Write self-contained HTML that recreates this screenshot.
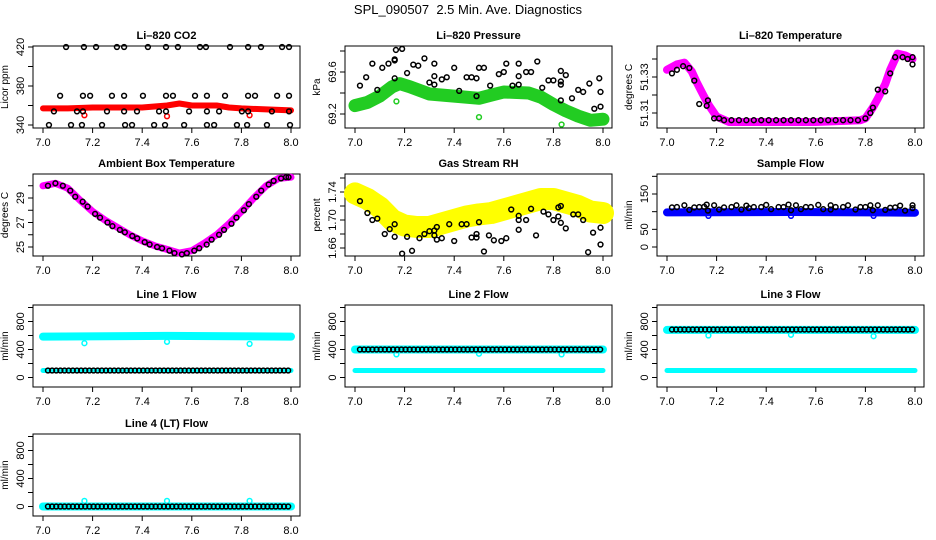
<!DOCTYPE html>
<html><head><meta charset="utf-8"><style>
html,body{margin:0;padding:0;background:#fff;}
svg{display:block;font-family:"Liberation Sans",sans-serif;}
</style></head><body>
<svg id="c" width="936" height="540" viewBox="0 0 936 540">
<text x="468" y="14" text-anchor="middle" font-size="13" style="white-space:pre">SPL_090507  2.5 Min. Ave. Diagnostics</text>
</svg>
<script>
// ---- data ----
const xTicks=[7.0,7.2,7.4,7.6,7.8,8.0];
const co2Band=[[7.0,357],[7.1,357],[7.2,358],[7.3,358],[7.4,358],[7.5,360],[7.55,362],[7.6,360],[7.7,360],[7.75,358],[7.8,357],[7.9,356],[8.0,355]];
const co2Out=[[7.167,350],[7.5,349],[7.833,350]];
const co2BlackT=[7.093,7.165,7.214,7.298,7.327,7.423,7.496,7.544,7.633,7.657,7.754,7.827,7.879,7.964,7.992,
7.069,7.161,7.19,7.278,7.327,7.403,7.496,7.524,7.613,7.661,7.734,7.827,7.855,7.944,7.992,
7.044,7.137,7.161,7.258,7.327,7.379,7.468,7.496,7.589,7.661,7.71,7.802,7.827,7.923,7.992,
7.024,7.113,7.157,7.238,7.331,7.359,7.448,7.492,7.569,7.661,7.69,7.782,7.823,7.903,7.996];
const co2BlackV=[420,420,420,420,420,420,420,420,420,420,420,420,420,420,420,
370,370,370,370,370,370,370,370,370,370,370,370,370,370,370,
354,354,354,354,354,354,354,354,354,354,354,354,354,354,354,
340,340,340,340,340,340,340,340,340,340,340,340,340,340,340];
const presBand=[[7.0,69.28],[7.05,69.31],[7.1,69.37],[7.15,69.46],[7.18,69.49],[7.22,69.46],[7.3,69.39],[7.4,69.37],[7.5,69.35],[7.55,69.38],[7.6,69.41],[7.7,69.40],[7.75,69.36],[7.8,69.29],[7.85,69.23],[7.9,69.18],[7.95,69.14],[8.0,69.15]];
const presOut=[[7.167,69.32],[7.5,69.17],[7.833,69.10]];
const presBlack=[[7.02,69.47],[7.045,69.55],[7.07,69.68],[7.09,69.43],[7.11,69.64],[7.135,69.68],[7.16,69.72],[7.16,69.71],[7.16,69.54],[7.165,69.81],[7.19,69.82],[7.21,69.59],[7.235,69.67],[7.255,69.66],[7.28,69.73],[7.30,69.5],[7.32,69.68],[7.32,69.56],[7.32,69.48],[7.35,69.53],[7.37,69.55],[7.40,69.64],[7.42,69.42],[7.45,69.55],[7.47,69.55],[7.49,69.54],[7.49,69.37],[7.50,69.64],[7.52,69.64],[7.545,69.47],[7.58,69.58],[7.60,69.6],[7.61,69.68],[7.635,69.47],[7.66,69.68],[7.66,69.56],[7.66,69.48],[7.69,69.6],[7.71,69.6],[7.735,69.7],[7.755,69.45],[7.78,69.52],[7.80,69.52],[7.83,69.61],[7.83,69.51],[7.83,69.48],[7.83,69.33],[7.85,69.57],[7.875,69.35],[7.90,69.43],[7.92,69.41],[7.945,69.49],[7.965,69.25],[7.985,69.54],[7.99,69.41],[7.99,69.27]];
const tempBand=[[7.0,51.334],[7.04,51.337],[7.07,51.338],[7.1,51.333],[7.12,51.327],[7.15,51.319],[7.17,51.314],[7.2,51.308],[7.25,51.305],[7.4,51.305],[7.6,51.305],[7.78,51.306],[7.8,51.307],[7.83,51.313],[7.85,51.318],[7.88,51.326],[7.9,51.334],[7.93,51.343],[7.96,51.342],[7.99,51.340]];
const tempBlack=[[7.02,51.332],[7.04,51.334],[7.065,51.336],[7.09,51.335],[7.11,51.328],[7.13,51.315],[7.16,51.314],[7.165,51.317],[7.19,51.307],[7.21,51.307],[7.23,51.306],[7.26,51.306],[7.29,51.306],[7.32,51.306],[7.35,51.306],[7.38,51.306],[7.41,51.306],[7.44,51.306],[7.47,51.306],[7.50,51.306],[7.53,51.306],[7.56,51.306],[7.59,51.306],[7.62,51.306],[7.65,51.306],[7.68,51.306],[7.71,51.306],[7.74,51.306],[7.77,51.306],[7.8,51.307],[7.82,51.310],[7.83,51.313],[7.85,51.323],[7.88,51.322],[7.90,51.332],[7.92,51.341],[7.95,51.341],[7.97,51.340],[7.99,51.341],[7.99,51.337]];
const ambBand=[[7.0,30.0],[7.05,30.2],[7.1,29.8],[7.15,28.8],[7.2,27.9],[7.25,27.2],[7.3,26.6],[7.35,26.0],[7.4,25.5],[7.45,25.1],[7.5,24.8],[7.55,24.5],[7.6,24.7],[7.65,25.3],[7.7,26.0],[7.75,26.9],[7.8,27.9],[7.85,29.0],[7.9,30.0],[7.95,30.6],[8.0,30.7]];
const ambBlackT=[7.02,7.05,7.08,7.11,7.13,7.16,7.18,7.21,7.23,7.26,7.28,7.31,7.33,7.36,7.38,7.41,7.43,7.46,7.48,7.51,7.53,7.56,7.58,7.61,7.63,7.66,7.68,7.71,7.73,7.76,7.78,7.81,7.83,7.86,7.88,7.91,7.93,7.96,7.98,7.99];
const ambBlackV=[30.0,30.2,30.0,29.6,29.1,28.7,28.3,27.7,27.4,27.0,26.7,26.4,26.2,25.9,25.7,25.4,25.2,25.0,24.9,24.7,24.5,24.4,24.5,24.7,24.9,25.2,25.6,26.0,26.4,26.9,27.4,28.0,28.5,29.1,29.6,30.1,30.4,30.6,30.7,30.7];
const rhBand=[[7.0,1.738],[7.05,1.73],[7.1,1.718],[7.15,1.70],[7.2,1.692],[7.25,1.69],[7.3,1.69],[7.35,1.695],[7.4,1.70],[7.45,1.705],[7.5,1.708],[7.55,1.71],[7.6,1.715],[7.65,1.72],[7.7,1.725],[7.75,1.73],[7.8,1.73],[7.85,1.725],[7.9,1.72],[7.95,1.712],[8.0,1.71]];
const rhBlack=[[7.02,1.727],[7.05,1.71],[7.07,1.70],[7.09,1.702],[7.12,1.68],[7.14,1.687],[7.16,1.676],[7.16,1.694],[7.19,1.652],[7.21,1.676],[7.23,1.656],[7.26,1.674],[7.28,1.68],[7.30,1.684],[7.32,1.685],[7.32,1.678],[7.33,1.69],[7.33,1.672],[7.35,1.674],[7.38,1.694],[7.40,1.67],[7.43,1.694],[7.45,1.694],[7.47,1.675],[7.49,1.675],[7.49,1.68],[7.50,1.697],[7.52,1.655],[7.54,1.678],[7.56,1.671],[7.59,1.670],[7.61,1.674],[7.63,1.715],[7.66,1.706],[7.66,1.70],[7.66,1.686],[7.69,1.70],[7.71,1.716],[7.73,1.678],[7.76,1.712],[7.78,1.708],[7.80,1.70],[7.82,1.718],[7.82,1.705],[7.83,1.72],[7.83,1.696],[7.85,1.688],[7.88,1.708],[7.90,1.708],[7.92,1.70],[7.94,1.654],[7.96,1.682],[7.99,1.689],[7.99,1.665]];
const sampBand=[[7.0,98],[7.5,99],[8.0,97]];
const sampOut=[[7.167,88],[7.5,88],[7.833,88]];
const sampBlack=[[7.02,112],[7.04,113],[7.07,118],[7.09,105],[7.11,112],[7.13,113],[7.15,114],[7.16,120],[7.165,103],[7.19,118],[7.21,106],[7.23,112],[7.26,113],[7.28,118],[7.30,106],[7.32,117],[7.33,110],[7.35,113],[7.38,113],[7.40,119],[7.42,107],[7.45,113],[7.47,113],[7.49,120],[7.50,104],[7.52,118],[7.54,107],[7.56,113],[7.58,113],[7.61,119],[7.63,107],[7.66,118],[7.66,106],[7.68,113],[7.71,113],[7.73,118],[7.76,106],[7.78,113],[7.80,113],[7.82,118],[7.83,104],[7.85,118],[7.88,105],[7.90,111],[7.92,112],[7.94,117],[7.96,103],[7.99,118],[7.99,110]];
const line1Band=[[7.0,585],[7.5,595],[8.0,585]], line1Low=[[7.0,100],[8.0,100]], line1Out=[[7.167,490],[7.5,510],[7.833,480]], line1BlackV=100;
const line2Band=[[7.0,400],[8.0,400]], line2Low=[[7.0,100],[8.0,100]], line2Out=[[7.167,330],[7.5,340],[7.833,330]], line2BlackV=400;
const line3Band=[[7.0,680],[8.0,680]], line3Low=[[7.0,100],[8.0,100]], line3Out=[[7.167,600],[7.5,610],[7.833,590]], line3BlackV=685;
const line4Band=[[7.0,0],[8.0,0]], line4Out=[[7.167,80],[7.5,80],[7.833,80]], line4BlackV=0;

// ---- drawing ----
const svg=document.getElementById('c');
const NS='http://www.w3.org/2000/svg';
const rowTop=[46,174,305,434];
function mk(tag,attrs,parent){const e=document.createElementNS(NS,tag);for(const k in attrs)e.setAttribute(k,attrs[k]);(parent||svg).appendChild(e);return e;}
function panel(col,row,name,title,ylab,a,b,yticks,ylabels){
  const g=mk('g',{});
  
  
  const L=33+312*col,T=rowTop[row],W=267,H=82;
  const X=t=>L+10+(t-7)*248;
  const Y=v=>T+a[1]+(v-a[0])*(b[1]-a[1])/(b[0]-a[0]);
  const box=mk('rect',{x:L,y:T,width:W,height:H,fill:'none',stroke:'#000','stroke-width':1},g);
  
  
  const tt=mk('text',{x:L+W/2,y:T-7,'text-anchor':'middle','font-size':11,'font-weight':'bold'},g);
  tt.textContent=title;
  
  
  xTicks.forEach(t=>{
    mk('line',{x1:X(t),x2:X(t),y1:T+H,y2:T+H+5,stroke:'#000'},g);
    const tx=mk('text',{x:X(t),y:T+H+18,'text-anchor':'middle','font-size':11},g);
    tx.textContent=t.toFixed(1);
    
    
  });
  yticks.forEach(v=>{mk('line',{x1:L-5,x2:L,y1:Y(v),y2:Y(v),stroke:'#000'},g);});
  ylabels.forEach(v=>{
    const tx=mk('text',{transform:`translate(${L-9},${Y(v)}) rotate(-90)`,'text-anchor':'middle','font-size':11},g);
    tx.textContent=v;
    
    
  });
  const yl=mk('text',{transform:`translate(${L-25},${T+H/2}) rotate(-90)`,'text-anchor':'middle','font-size':10},g);
  yl.textContent=ylab;
  
  
  const clip=mk('g',{},g);
  return {g:clip,X,Y};
}
function band(p,pts,color,w){
  const d=pts.map((q,i)=>(i?'L':'M')+p.X(q[0]).toFixed(1)+' '+p.Y(q[1]).toFixed(1)).join(' ');
  const e=mk('path',{d,fill:'none',stroke:color,'stroke-width':w,'stroke-linejoin':'round','stroke-linecap':'round'},p.g);
  
  
}
function pt(p,t,v,color){
  const e=mk('circle',{cx:p.X(t),cy:p.Y(v),r:2.4,fill:'none',stroke:color,'stroke-width':1.5},p.g);
  
  
}
// CO2
let p=panel(0,0,'co2','Li\u2013820 CO2','Licor ppm',[420,1],[340,79],[340,360,380,400,420],[340,380,420]);
band(p,co2Band,'#ff0000',6); co2Out.forEach(q=>pt(p,q[0],q[1],'#ff0000'));
co2BlackT.forEach((t,i)=>pt(p,t,co2BlackV[i],'#000'));
// Pressure
p=panel(1,0,'pressure','Li\u2013820 Pressure','kPa',[69.6,26],[69.2,68],[69.2,69.4,69.6,69.8],['69.2','69.6']);
band(p,presBand,'#22cc22',13); presOut.forEach(q=>pt(p,q[0],q[1],'#22cc22'));
presBlack.forEach(q=>pt(p,q[0],q[1],'#000'));
// Li temp
p=panel(2,0,'li-temperature','Li\u2013820 Temperature','degrees C',[51.33,31],[51.31,67],[51.31,51.32,51.33,51.34],['51.31','51.33']);
band(p,tempBand,'#ff00ff',8); tempBlack.forEach(q=>pt(p,q[0],q[1],'#000'));
// Ambient
p=panel(0,1,'ambient-temperature','Ambient Box Temperature','degrees C',[29,24],[25,73],[25,26,27,28,29,30],[25,27,29]);
band(p,ambBand,'#ff00ff',7); ambBlackT.forEach((t,i)=>pt(p,t,ambBlackV[i],'#000'));
// RH
p=panel(1,1,'gas-stream-rh','Gas Stream RH','percent',[1.74,18],[1.66,74],[1.66,1.68,1.70,1.72,1.74,1.76],['1.66','1.70','1.74']);
band(p,rhBand,'#ffff00',22); rhBlack.forEach(q=>pt(p,q[0],q[1],'#000'));
// Sample flow
p=panel(2,1,'sample-flow','Sample Flow','ml/min',[150,20],[0,73],[0,50,100,150,200],[0,50,150]);
band(p,sampBand,'#0000ff',8); sampOut.forEach(q=>pt(p,q[0],q[1],'#0000ff'));
sampBlack.forEach(q=>pt(p,q[0],q[1],'#000'));
// flows
function flow(col,row,name,title,bandD,low,out,bv){
  const q=panel(col,row,name,title,'ml/min',[0,72.5],[800,16.5],[0,200,400,600,800,1000],[0,400,800]);
  band(q,bandD,'#00ffff',8); if(low) band(q,low,'#00ffff',5);
  out.forEach(o=>pt(q,o[0],o[1],'#00ffff'));
  for(let t=7.02;t<=7.995;t+=0.0167) pt(q,t,bv,'#000');
}
flow(0,2,'line1-flow','Line 1 Flow',line1Band,line1Low,line1Out,line1BlackV);
flow(1,2,'line2-flow','Line 2 Flow',line2Band,line2Low,line2Out,line2BlackV);
flow(2,2,'line3-flow','Line 3 Flow',line3Band,line3Low,line3Out,line3BlackV);
flow(0,3,'line4-flow','Line 4 (LT) Flow',line4Band,null,line4Out,line4BlackV);
</script>
</body></html>
